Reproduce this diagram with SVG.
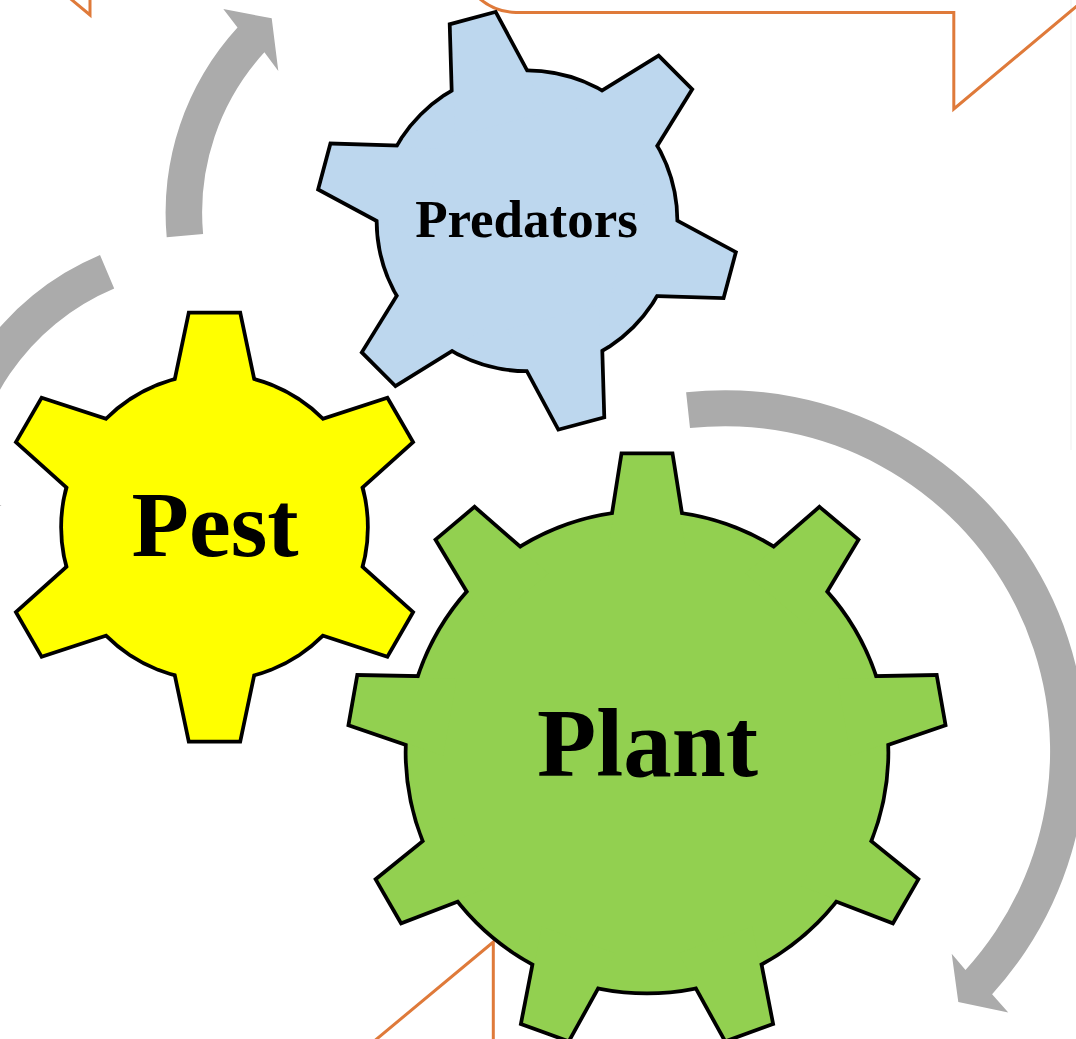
<svg xmlns="http://www.w3.org/2000/svg" xmlns:xlink="http://www.w3.org/1999/xlink" width="1076" height="1039" viewBox="0 0 1076 1039">
  <style>
    .outline { fill: #000000; stroke: #000000; stroke-width: 7.5; stroke-linejoin: miter; stroke-miterlimit: 10; }
    .label { font-family: "Liberation Serif", "Times New Roman", serif; font-weight: bold; fill: #000000; text-anchor: middle; }
    .arrow { fill: #ABABAB; stroke: none; }
    .callout { fill: none; stroke: #DF7A3A; stroke-width: 3; stroke-linejoin: miter; }
  </style>
  <defs>
    <g id="pestShape">
      <circle cx="0" cy="0" r="151.5"/>
      <polygon id="pestTooth" points="-24.2,-212.6 24.2,-212.6 47.9,-100 -47.9,-100"/>
      <use xlink:href="#pestTooth" href="#pestTooth" transform="rotate(60)"/>
      <use xlink:href="#pestTooth" href="#pestTooth" transform="rotate(120)"/>
      <use xlink:href="#pestTooth" href="#pestTooth" transform="rotate(180)"/>
      <use xlink:href="#pestTooth" href="#pestTooth" transform="rotate(240)"/>
      <use xlink:href="#pestTooth" href="#pestTooth" transform="rotate(300)"/>
    </g>
    <g id="predShape">
      <circle cx="0" cy="0" r="148.5"/>
      <polygon points="-22.3,-208 22.3,-208 47.8,-100 -47.8,-100" transform="rotate(-15)"/>
      <polygon points="-22.3,-208 22.3,-208 47.8,-100 -47.8,-100" transform="rotate(45)"/>
      <polygon points="-22.3,-208 22.3,-208 47.8,-100 -47.8,-100" transform="rotate(105)"/>
      <polygon points="-22.3,-208 22.3,-208 47.8,-100 -47.8,-100" transform="rotate(165)"/>
      <polygon points="-22.3,-208 22.3,-208 47.8,-100 -47.8,-100" transform="rotate(225)"/>
      <polygon points="-22.3,-208 22.3,-208 47.8,-100 -47.8,-100" transform="rotate(285)"/>
    </g>
    <g id="plantShape">
      <circle cx="0" cy="0" r="239.5"/>
      <polygon id="plantTooth" points="-23.9,-296.8 23.9,-296.8 39.2,-200 -39.2,-200"/>
      <use xlink:href="#plantTooth" href="#plantTooth" transform="rotate(40)"/>
      <use xlink:href="#plantTooth" href="#plantTooth" transform="rotate(80)"/>
      <use xlink:href="#plantTooth" href="#plantTooth" transform="rotate(120)"/>
      <use xlink:href="#plantTooth" href="#plantTooth" transform="rotate(160)"/>
      <use xlink:href="#plantTooth" href="#plantTooth" transform="rotate(200)"/>
      <use xlink:href="#plantTooth" href="#plantTooth" transform="rotate(240)"/>
      <use xlink:href="#plantTooth" href="#plantTooth" transform="rotate(280)"/>
      <use xlink:href="#plantTooth" href="#plantTooth" transform="rotate(320)"/>
    </g>
  </defs>

  <rect x="0" y="0" width="1076" height="1039" fill="#FFFFFF"/>
  <line x1="1071" y1="0" x2="1071" y2="450" stroke="#F4F4F4" stroke-width="1.5"/>

  <g id="callouts">
    <path class="callout" d="M 66,-5 L 90,15 L 90,-5"/>
    <path class="callout" d="M 480,-1 A 58 58 0 0 0 516,12.5 L 953.8,12.5 L 953.8,109 L 1080,3.4"/>
    <path class="callout" d="M 369.5,1045 L 493.3,942 L 493.3,1045"/>
  </g>

  <g id="connectors">
    <path class="arrow" d="M 166.7,237.2 A 273.5 273.5 0 0 1 237.5,27.6 L 223.3,9 L 271.7,18.3 L 278.3,71 L 264.4,52.3 A 237 237 0 0 0 203.1,233.9 Z"/>
    <path class="arrow" d="M 100,254.9 A 273.5 273.5 0 0 0 -67.5,502.2 L -89.9,499.3 L -47.6,533.7 L 1.5,505 L -31,502.9 A 237 237 0 0 1 114.2,288.5 Z"/>
    <path class="arrow" d="M 686.1,392.3 A 361 361 0 0 1 992.1,994.2 L 1008.3,1012.6 L 958.3,1002.1 L 951.7,953.8 L 965.5,969.9 A 325 325 0 0 0 690,428.1 Z"/>
  </g>

  <g id="predators" transform="translate(527,220.8)">
    <use xlink:href="#predShape" href="#predShape" class="outline"/>
    <use xlink:href="#predShape" href="#predShape" fill="#BDD7EE"/>
    <text class="label" x="-0.5" y="16.2" font-size="53">Predators</text>
  </g>

  <g id="pest" transform="translate(214.5,527.2)">
    <use xlink:href="#pestShape" href="#pestShape" class="outline"/>
    <use xlink:href="#pestShape" href="#pestShape" fill="#FFFF00"/>
    <text class="label" x="0.5" y="28.8" font-size="94">Pest</text>
  </g>

  <g id="plant" transform="translate(647,752)">
    <use xlink:href="#plantShape" href="#plantShape" class="outline"/>
    <use xlink:href="#plantShape" href="#plantShape" fill="#92D050"/>
    <text class="label" x="0.5" y="24" font-size="97">Plant</text>
  </g>
</svg>
